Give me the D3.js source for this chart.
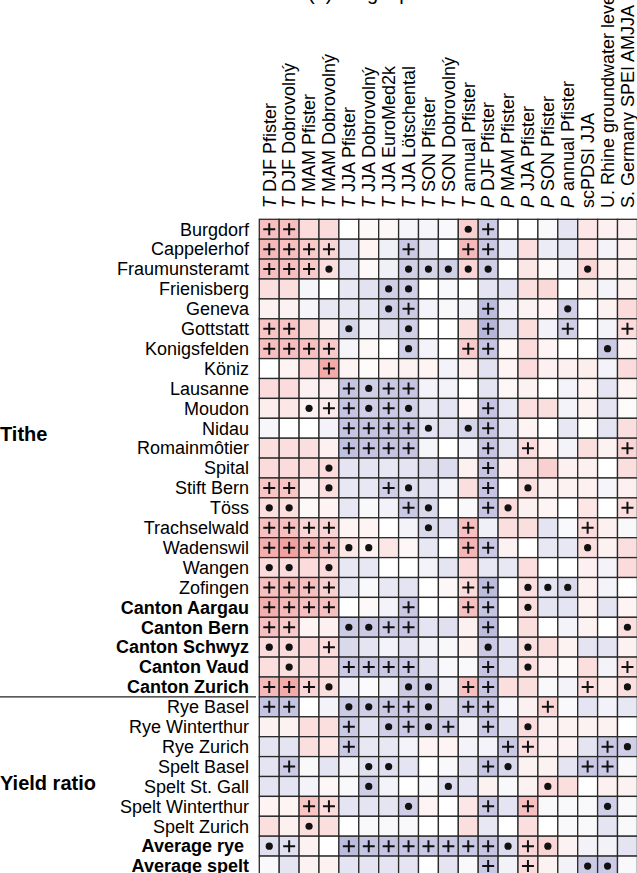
<!DOCTYPE html>
<html>
<head>
<meta charset="utf-8">
<style>
  body { margin: 0; background: #fff; }
  svg { display: block; font-family: "Liberation Sans", Arial, sans-serif; }
</style>
</head>
<body>
<div id="chart"></div>
<script src="https://d3js.org/d3.v7.min.js"></script>
<script>
// ---- data ----
var columns = [
  "T DJF Pfister", "T DJF Dobrovolný", "T MAM Pfister", "T MAM Dobrovolný",
  "T JJA Pfister", "T JJA Dobrovolný", "T JJA EuroMed2k", "T JJA Lötschental",
  "T SON Pfister", "T SON Dobrovolný", "T annual Pfister",
  "P DJF Pfister", "P MAM Pfister", "P JJA Pfister", "P SON Pfister", "P annual Pfister",
  "scPDSI JJA", "U. Rhine groundwater level", "S. Germany SPEI AMJJA"
];

var tithe = [
  "Burgdorf", "Cappelerhof", "Fraumunsteramt", "Frienisberg", "Geneva", "Gottstatt",
  "Konigsfelden", "Köniz", "Lausanne", "Moudon", "Nidau", "Romainmôtier", "Spital",
  "Stift Bern", "Töss", "Trachselwald", "Wadenswil", "Wangen", "Zofingen",
  "Canton Aargau", "Canton Bern", "Canton Schwyz", "Canton Vaud", "Canton Zurich"
];
var yieldRatio = [
  "Rye Basel", "Rye Winterthur", "Rye Zurich", "Spelt Basel", "Spelt St. Gall",
  "Spelt Winterthur", "Spelt Zurich", "Average rye ", "Average spelt"
];
var boldRows = ["Canton Aargau", "Canton Bern", "Canton Schwyz", "Canton Vaud",
  "Canton Zurich", "Average rye ", "Average spelt"];

var values = [
  [0.30, 0.30, 0.17, 0.17, 0, 0.04, 0.04, -0.05, -0.05, -0.03, 0.22, -0.27, 0, 0, -0.03, -0.14, 0.12, 0.07, 0.07],
  [0.33, 0.30, 0.25, 0.20, -0.12, 0.05, -0.08, -0.28, -0.12, 0, 0.33, -0.28, -0.10, 0.15, -0.10, -0.12, 0.12, -0.06, 0.07],
  [0.30, 0.30, 0.25, 0.15, -0.12, 0.03, -0.08, -0.25, -0.22, -0.25, 0.20, -0.25, 0, 0.12, 0.03, -0.06, 0.20, 0.07, 0.07],
  [0.15, 0.15, -0.05, 0, -0.12, -0.15, -0.25, -0.25, 0, -0.03, 0, -0.14, -0.14, 0.15, 0.18, 0, 0.08, -0.06, 0.07],
  [0.06, 0.06, -0.05, -0.12, -0.12, -0.12, -0.25, -0.27, -0.06, -0.03, -0.06, -0.35, -0.07, 0.06, 0.05, -0.25, 0, 0.06, 0.17],
  [0.28, 0.28, 0.18, 0.07, -0.22, -0.07, -0.15, -0.25, 0, 0, 0.15, -0.38, -0.15, 0.15, -0.07, -0.25, 0, -0.06, 0.17],
  [0.30, 0.30, 0.30, 0.25, -0.05, 0.04, 0, -0.25, -0.06, 0, 0.25, -0.30, 0.04, 0.17, 0.05, 0, 0, -0.27, 0.05],
  [0, 0.05, 0.17, 0.40, 0.05, 0.02, 0.05, 0.06, 0.05, -0.06, 0.07, -0.15, 0.05, 0.17, 0.07, 0.07, 0.08, -0.06, 0.17],
  [0.17, 0.17, 0.07, 0.07, -0.30, -0.25, -0.28, -0.30, -0.06, -0.06, 0, -0.14, 0.04, 0.06, 0, -0.06, 0.05, -0.14, 0.05],
  [0.08, 0.12, 0.06, 0.10, -0.30, -0.25, -0.28, -0.25, -0.12, -0.14, 0.04, -0.30, -0.12, 0.15, 0.15, -0.06, 0.06, -0.14, 0.02],
  [-0.04, 0, 0, -0.06, -0.30, -0.30, -0.30, -0.30, -0.15, -0.14, -0.22, -0.30, -0.12, 0.05, 0, -0.12, 0.02, -0.14, 0.15],
  [0.15, 0.15, 0.15, 0.07, -0.33, -0.30, -0.30, -0.30, -0.05, 0, -0.05, -0.30, -0.12, 0.17, 0.05, -0.06, 0.15, 0.06, 0.20],
  [0.17, 0.17, 0.15, 0.17, -0.14, -0.14, -0.12, -0.14, -0.17, -0.18, 0.07, -0.30, 0.07, 0.15, 0.22, 0.07, 0.07, 0, 0.15],
  [0.28, 0.28, 0.06, 0.15, -0.12, -0.12, -0.25, -0.17, -0.14, -0.06, 0.15, -0.30, 0, 0.15, 0.06, 0.06, 0.07, -0.05, 0.07],
  [0.15, 0.15, 0.03, 0.05, -0.12, -0.03, -0.07, -0.28, -0.20, 0, -0.03, -0.30, 0.17, 0.07, 0.05, 0, 0.12, 0, 0.15],
  [0.30, 0.30, 0.20, 0.20, 0.05, 0.05, 0, -0.06, -0.20, -0.14, 0.30, -0.08, 0.15, 0.15, -0.14, -0.03, 0.17, 0.07, -0.03],
  [0.38, 0.45, 0.35, 0.30, 0.12, 0.06, 0.12, 0.04, -0.12, 0, 0.35, -0.28, 0.06, 0, -0.12, -0.12, 0.15, 0.06, 0.15],
  [0.17, 0.17, 0.17, 0.17, -0.12, -0.12, 0, 0, -0.06, -0.14, 0.17, -0.12, -0.12, 0.15, 0, 0, 0.07, -0.06, 0.17],
  [0.30, 0.33, 0.30, 0.22, -0.12, -0.03, -0.12, -0.14, 0, 0.04, 0.17, -0.35, 0, 0.15, -0.14, -0.20, 0.07, -0.06, 0],
  [0.38, 0.33, 0.30, 0.30, 0, 0.03, -0.06, -0.28, 0, 0, 0.30, -0.30, 0, 0.15, -0.14, -0.14, 0.06, -0.14, 0.05],
  [0.30, 0.25, 0.05, 0.07, -0.27, -0.27, -0.27, -0.30, -0.14, -0.16, 0.07, -0.35, 0, 0.15, 0, -0.06, 0.06, 0, 0.15],
  [0.17, 0.17, 0.17, 0.17, -0.20, -0.14, -0.06, -0.14, -0.06, -0.03, 0.06, -0.28, -0.14, 0.15, 0.15, 0.06, -0.14, -0.14, 0.06],
  [0.15, 0.15, 0.15, 0.15, -0.28, -0.28, -0.28, -0.28, -0.14, -0.03, -0.03, -0.30, -0.14, 0.15, 0.06, 0.03, 0.15, -0.06, 0.15],
  [0.33, 0.40, 0.20, 0.15, -0.06, -0.02, -0.06, -0.27, -0.25, -0.06, 0.30, -0.30, 0.15, 0.15, -0.03, -0.06, 0.17, 0.07, 0.15],
  [-0.30, -0.30, 0, -0.06, -0.27, -0.25, -0.28, -0.28, -0.25, -0.16, -0.28, -0.30, -0.04, 0.07, 0.20, -0.03, -0.14, -0.07, -0.12],
  [0.06, 0.06, 0.15, 0.15, -0.28, -0.14, -0.25, -0.28, -0.25, -0.27, -0.06, -0.28, -0.14, 0.17, 0.06, 0.06, 0.06, 0.06, 0],
  [-0.14, -0.14, 0.15, 0.12, -0.28, -0.12, -0.12, -0.06, 0.05, 0.05, -0.06, -0.06, -0.28, 0.17, 0.06, 0.06, -0.14, -0.28, -0.25],
  [-0.14, -0.27, -0.03, -0.14, -0.06, -0.16, -0.16, -0.14, 0, -0.03, -0.14, -0.30, -0.20, 0.06, 0.06, -0.14, -0.28, -0.28, -0.03],
  [-0.14, -0.14, -0.06, 0.04, -0.03, -0.25, -0.06, 0, -0.03, -0.18, -0.14, 0.06, -0.03, 0.06, 0.17, 0.15, 0, 0.07, 0.06],
  [0.05, 0.05, 0.28, 0.17, -0.14, -0.14, -0.14, -0.25, 0.05, 0, 0.12, -0.28, -0.14, 0.30, -0.03, -0.03, -0.03, -0.25, -0.03],
  [0.15, 0.07, 0.15, 0.15, 0, -0.03, -0.03, -0.03, 0, 0, 0.15, -0.12, 0, 0.15, 0, -0.03, -0.03, -0.14, -0.03],
  [-0.16, -0.16, 0.06, 0, -0.35, -0.30, -0.30, -0.30, -0.28, -0.28, -0.28, -0.30, -0.18, 0.20, 0.20, 0.06, -0.07, -0.07, -0.14],
  [-0.03, -0.14, 0.06, 0.06, -0.14, -0.14, -0.14, -0.14, 0, -0.14, -0.03, -0.28, -0.07, 0.17, 0.06, -0.07, -0.27, -0.27, -0.03]
];

// significance symbols: "+" and "o" (dot), "." none
var marks = [
  "++........o+.......",
  "++++...+..++.......",
  "+++o...ooooo....o..",
  "......oo...........",
  "......o+...+...o...",
  "++..o..o...+...+..+",
  "++++...o..++.....o.",
  "...+...............",
  "....+o++...........",
  "..o++o+o...+.......",
  "....++++o.o+.......",
  "....++++...+.+....+",
  "...o.......+.......",
  "++.o..+o...+.o.....",
  "oo.....+o..+o.....+",
  "++++....o.+.....+..",
  "++++oo....++....o..",
  "oo.o...............",
  "++++......++.ooo...",
  "++++...+..++.o.....",
  "++..oo++...+......o",
  "oo.+.......o.o.....",
  ".o..++++...+.o....+",
  "+++o...oo.++....+.o",
  "++..oo++o.++..+....",
  "....+.o+o+.+.o.....",
  "....+.......++...+o",
  ".+...oo....+o...++.",
  ".....o...o....o....",
  "..++...o...+.+...o.",
  "..o................",
  "o+..++++++++o+o....",
  "...........+.+..oo."
];

// ---- layout ----
var width = 637, height = 873;
var gridLeft = 259.3, gridTop = 219.3, cell = 19.9;
var rows = tithe.concat(yieldRatio);

var svg = d3.select("#chart").append("svg")
    .attr("width", width)
    .attr("height", height)
    .style("overflow", "hidden");

var x = d3.scaleBand().domain(columns).range([gridLeft, gridLeft + columns.length * cell]);
var y = d3.scaleBand().domain(rows).range([gridTop, gridTop + rows.length * cell]);
var color = d3.scaleLinear().domain([-0.5, 0, 0.5])
    .range(["#9f9fd0", "#ffffff", "#f29595"]);

// title (cut at top edge)
svg.append("text")
    .attr("x", 308).attr("y", 0)
    .attr("font-size", 20)
    .text("(a) Single proxies");

// column headers
var head = svg.append("g").selectAll("text").data(columns).enter().append("text")
    .attr("transform", function(d) {
        return "translate(" + (x(d) + x.bandwidth() / 2) + ",208) rotate(-90)";
    })
    .attr("dy", "0.35em")
    .attr("font-size", 18);
head.each(function(d) {
    var t = d3.select(this);
    if (/^[TP] /.test(d)) {
        t.append("tspan").attr("font-style", "italic").text(d[0]);
        t.append("tspan").text(d.slice(1));
    } else {
        t.text(d);
    }
});

// cells
var cells = [];
values.forEach(function(r, i) {
    r.forEach(function(v, j) {
        cells.push({row: rows[i], col: columns[j], v: v, m: marks[i][j]});
    });
});

var g = svg.append("g");
g.selectAll("rect").data(cells).enter().append("rect")
    .attr("x", function(d) { return x(d.col); })
    .attr("y", function(d) { return y(d.row); })
    .attr("width", x.bandwidth())
    .attr("height", y.bandwidth())
    .attr("fill", function(d) { return color(d.v); })
    .attr("stroke", "#2a2a2a")
    .attr("stroke-width", 1.3);

g.selectAll("path.plus").data(cells.filter(function(d) { return d.m === "+"; }))
  .enter().append("path")
    .attr("class", "plus")
    .attr("d", function(d) {
        var cx = x(d.col) + x.bandwidth() / 2, cy = y(d.row) + y.bandwidth() / 2;
        return "M" + (cx - 6) + "," + cy + "H" + (cx + 6) + "M" + cx + "," + (cy - 6) + "V" + (cy + 6);
    })
    .attr("stroke", "#111")
    .attr("stroke-width", 2);

g.selectAll("circle").data(cells.filter(function(d) { return d.m === "o"; }))
  .enter().append("circle")
    .attr("cx", function(d) { return x(d.col) + x.bandwidth() / 2; })
    .attr("cy", function(d) { return y(d.row) + y.bandwidth() / 2; })
    .attr("r", 3.6)
    .attr("fill", "#111");

// row labels
svg.append("g").selectAll("text").data(rows).enter().append("text")
    .attr("x", 249)
    .attr("y", function(d) { return y(d) + y.bandwidth() / 2; })
    .attr("dy", "0.35em")
    .attr("text-anchor", "end")
    .attr("font-size", 18)
    .attr("font-weight", function(d) { return boldRows.indexOf(d) >= 0 ? "bold" : "normal"; })
    .style("white-space", "pre")
    .text(function(d) { return d; });

// group labels and separator
svg.append("text")
    .attr("x", 0).attr("y", 434).attr("dy", "0.35em")
    .attr("font-size", 20).attr("font-weight", "bold")
    .text("Tithe");
svg.append("text")
    .attr("x", 0).attr("y", 783).attr("dy", "0.35em")
    .attr("font-size", 20).attr("font-weight", "bold")
    .text("Yield ratio");
svg.append("line")
    .attr("x1", 0).attr("x2", 256)
    .attr("y1", y(yieldRatio[0])).attr("y2", y(yieldRatio[0]))
    .attr("stroke", "#222").attr("stroke-width", 1.2);
</script>
</body>
</html>
